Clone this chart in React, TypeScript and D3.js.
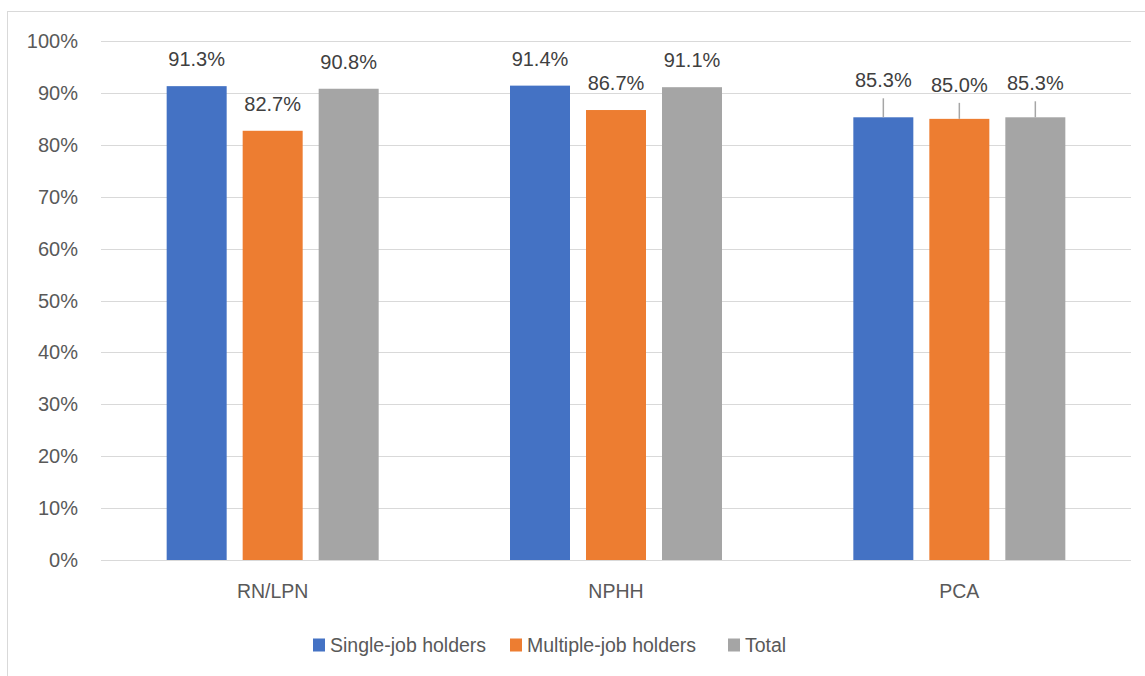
import React from "react";
import * as d3 from "d3";

const categories = ["RN/LPN", "NPHH", "PCA"];
const seriesNames = ["Single-job holders", "Multiple-job holders", "Total"];
const singleJob = [91.3, 91.4, 85.3];
const multipleJob = [82.7, 86.7, 85.0];
const total = [90.8, 91.1, 85.3];
const yTicks = [0, 10, 20, 30, 40, 50, 60, 70, 80, 90, 100];
const colors = ["#4472C4", "#ED7D31", "#A5A5A5"];
// categories where labels are lifted with leader lines
const labelRaise = [false, false, true];
const raisedOffsets = [37, 34, 34];

const W = 1145;
const H = 676;
const font = "'Liberation Sans', Arial, sans-serif";

export default function App() {
  const series = [singleJob, multipleJob, total];
  const plotL = 101, plotR = 1131, plotT = 41, plotB = 560;
  const x = d3.scaleBand<string>().domain(categories).range([plotL, plotR]).paddingInner(0).paddingOuter(0);
  const y = d3.scaleLinear().domain([0, 100]).range([plotB, plotT]);
  const barW = 60;
  const gap = 16;
  const groupW = barW * 3 + gap * 2;

  const legendItems = [
    { name: seriesNames[0], x: 313 },
    { name: seriesNames[1], x: 510 },
    { name: seriesNames[2], x: 728 },
  ];

  return (
    <svg width={W} height={H} style={{ position: "absolute", left: 0, top: 0, display: "block" }}>
      <rect x={0} y={0} width={W} height={H} fill="#fff" />
      <rect x={7.5} y={11.5} width={W + 20} height={H + 20} fill="#fff" stroke="#d9d9d9" strokeWidth={1} />
      {yTicks.map((t) => (
        <g key={t}>
          <line x1={plotL} x2={plotR} y1={Math.round(y(t)) + 0.5} y2={Math.round(y(t)) + 0.5} stroke="#d9d9d9" strokeWidth={1} />
          <text x={78} y={y(t)} dy="0.35em" textAnchor="end" fontFamily={font} fontSize={20} fill="#595959">
            {t}%
          </text>
        </g>
      ))}
      {categories.map((c, ci) => {
        const cx = (x(c) as number) + x.bandwidth() / 2;
        const start = cx - groupW / 2;
        return (
          <g key={c}>
            {series.map((s, si) => {
              const bx = start + si * (barW + gap);
              const v = s[ci];
              const top = y(v);
              const raised = labelRaise[ci];
              const labelY = raised ? top - raisedOffsets[si] : top - 27;
              return (
                <g key={si}>
                  <rect x={bx} y={top} width={barW} height={plotB - top} fill={colors[si]} />
                  {raised && (
                    <line x1={bx + barW / 2} x2={bx + barW / 2} y1={labelY + 18} y2={top} stroke="#a6a6a6" strokeWidth={1.5} />
                  )}
                  <text x={bx + barW / 2} y={labelY} dy="0.35em" textAnchor="middle" fontFamily={font} fontSize={20} fill="#404040">
                    {v.toFixed(1)}%
                  </text>
                </g>
              );
            })}
            <text x={cx} y={591} dy="0.35em" textAnchor="middle" fontFamily={font} fontSize={19.5} fill="#595959">
              {c}
            </text>
          </g>
        );
      })}
      {legendItems.map((l, i) => (
        <g key={l.name}>
          <rect x={l.x} y={638.5} width={12} height={13} fill={colors[i]} />
          <text x={l.x + 17} y={645} dy="0.35em" fontFamily={font} fontSize={19.5} fill="#595959">
            {l.name}
          </text>
        </g>
      ))}
    </svg>
  );
}
